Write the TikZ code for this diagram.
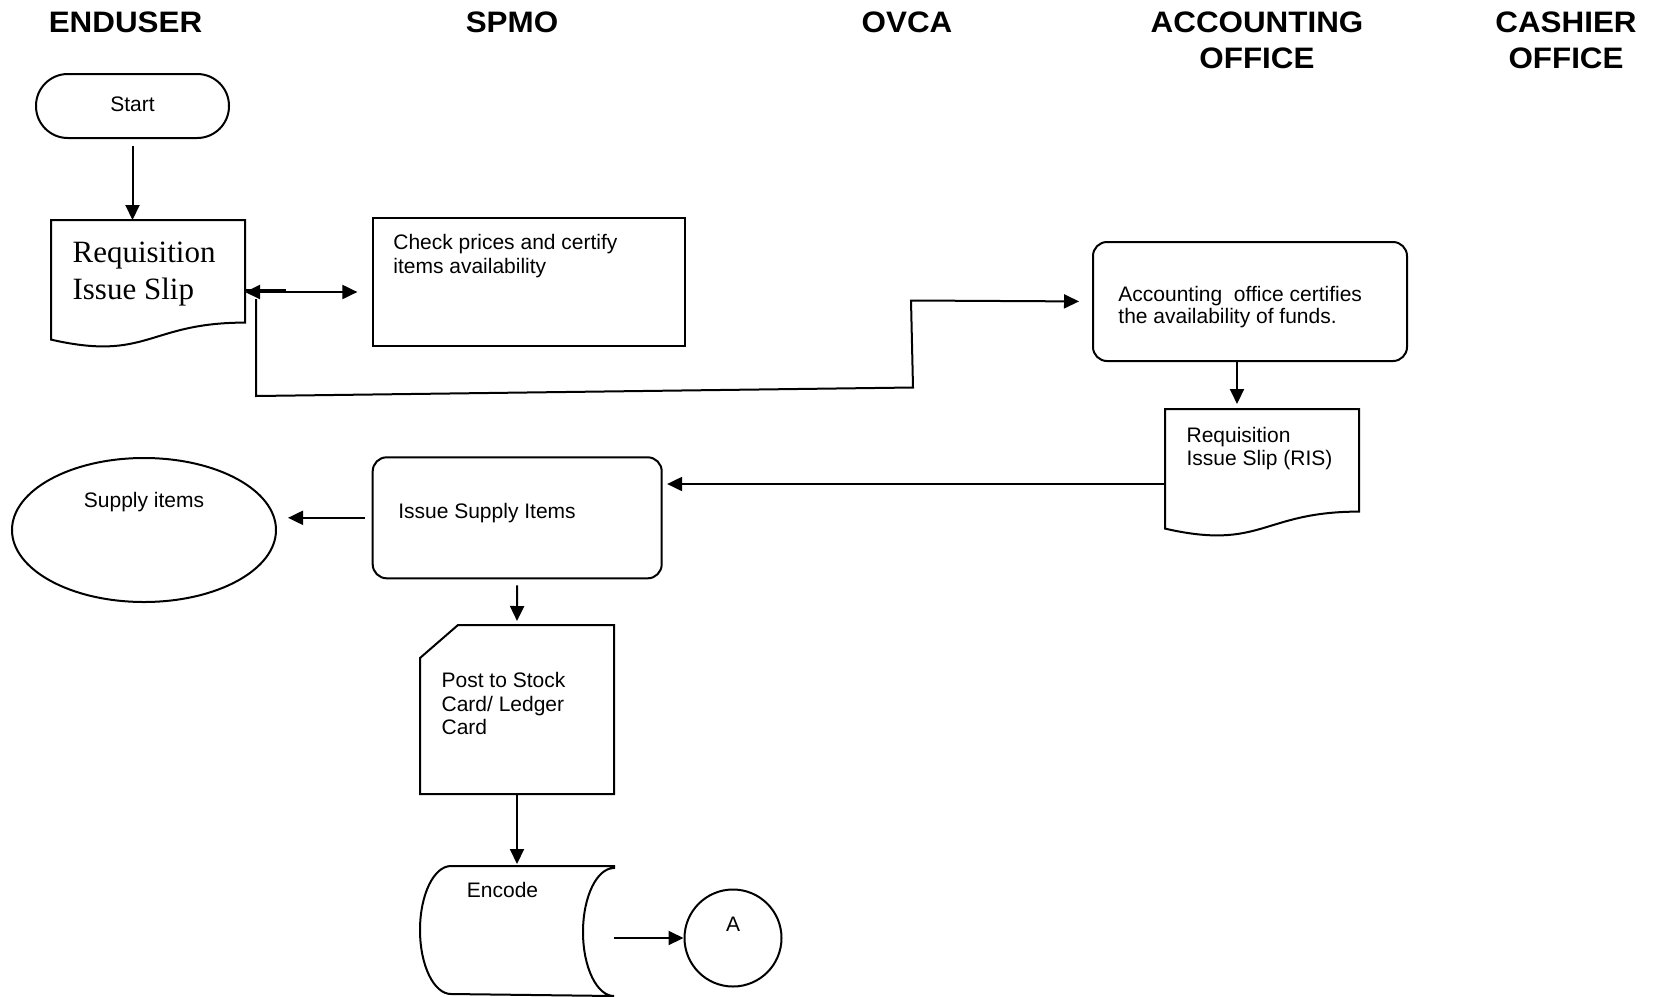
\documentclass[tikz,border=0pt]{standalone}
\usepackage{fontspec}
\setmainfont{Liberation Sans}
\newfontfamily\slipfont{Liberation Serif}
\newfontfamily\headfont{Liberation Sans}[FakeStretch=1.06]
\usetikzlibrary{arrows.meta,positioning,shapes.geometric,calc}

\tikzset{
  lane/.style={font=\headfont\bfseries\fontsize{14.8}{18}\selectfont, align=center, anchor=north, inner sep=0pt},
  txt/.style={font=\fontsize{10.5}{12}\selectfont, align=left, inner sep=0pt},
  procbox/.style={draw, rectangle, inner sep=0pt},
  roundbox/.style={procbox, rounded corners=7pt},
  docbox/.style={rectangle, inner sep=0pt, minimum width=96pt, minimum height=64pt},
}

% outline of a document symbol (wavy bottom)
\newcommand{\docshape}[1]{%
  \draw (#1.north west) -- (#1.north east) -- ([yshift=-51.3pt]#1.north east)
    .. controls ([yshift=-51.3pt]#1.north) and ([yshift=-70.9pt]#1.north) .. ([yshift=-59.8pt]#1.north west) -- cycle;}
% outline of a card symbol (cut corner)
\newcommand{\cardshape}[1]{%
  \draw ([xshift=19pt]#1.north west) -- (#1.north east) -- (#1.south east) -- (#1.south west) -- ([yshift=-16.5pt]#1.north west) -- cycle;}
% outline of a stored data symbol
\newcommand{\storedshape}[1]{%
  \draw (#1.north east) -- ([xshift=15.5pt]#1.north west) arc[start angle=90, end angle=270, x radius=15.5pt, y radius=32pt]
    -- (#1.south east) arc[start angle=270, end angle=90, x radius=15.5pt, y radius=32pt] -- cycle;}

\begin{document}
\begin{tikzpicture}[x=0.5pt, y=-0.5pt, line width=1pt, >={Triangle[length=7.5pt,width=7pt]}]
\useasboundingbox (0,0) rectangle (1653,996);

% lanes
\node[lane] (enduser) at (125.5,11) {ENDUSER};
\node[lane] (spmo) at (512,11) {SPMO};
\node[lane] (ovca) at (907,11) {OVCA};
\node[lane] (acctlane) at (1257,11) {ACCOUNTING\\OFFICE};
\node[lane] (cashier) at (1566,11) {CASHIER\\OFFICE};

% enduser
\node[draw, rounded corners=15.9pt, minimum width=96.5pt, minimum height=32pt, inner sep=0pt,
      font=\fontsize{10.5}{12}\selectfont, text depth=2pt] (start) at (132.5,106) {Start};

\node[docbox] (req) at (148,285) {};
\docshape{req}
\node[txt, font=\slipfont\fontsize{15.5}{18.75}\selectfont, below right=10.3pt and 10.3pt of req.north west] (reqtxt) {Requisition\\Issue Slip};

\node[draw, ellipse, minimum width=132pt, minimum height=72pt, inner sep=0pt] (supply) at (144,530) {};
\node[txt, below=17pt of supply.north] (supplytxt) {Supply items};

% spmo
\node[procbox, minimum width=156.2pt, minimum height=64pt] (check) at (529,281.7) {};
\node[txt, below right=8.3pt and 10.3pt of check.north west] (checktxt) {Check prices and certify\\items availability};

\node[roundbox, minimum width=144.5pt, minimum height=60.5pt] (issue) at (517.2,517.8) {};
\node[txt, below right=23pt and 12.8pt of issue.north west] (issuetxt) {Issue Supply Items};

\node[docbox, minimum height=83.5pt] (post) at (517,709.5) {};
\cardshape{post}
\node[txt, font=\fontsize{10.5}{11.7}\selectfont, below right=23.2pt and 10.3pt of post.north west] (posttxt) {Post to Stock\\Card/ Ledger\\Card};

\node[docbox] (encode) at (517,931) {};
\storedshape{encode}
\node[txt, below=7.5pt of encode.north, xshift=-7.25pt] (encodetxt) {Encode};

\node[draw, circle, minimum size=48.5pt, inner sep=0pt] (a) at (733,938) {};
\node[txt, below=13.75pt of a.north] (atxt) {A};

% accounting office
\node[roundbox, minimum width=157pt, minimum height=59.5pt] (acct) at (1250,301.5) {};
\node[txt, font=\fontsize{10.5}{11.2}\selectfont, below right=22pt and 12.7pt of acct.north west] (accttxt) {Accounting\ \ office certifies\\the availability of funds.};

\node[docbox] (ris) at (1262,474) {};
\docshape{ris}
\node[txt, font=\fontsize{10.5}{11.5}\selectfont, below right=8.8pt and 10.3pt of ris.north west] (ristxt) {Requisition\\Issue Slip (RIS)};

% connectors
\draw[->, shorten <=3.5pt] (start.south) -- (start.south |- req.north);

\coordinate (rq1) at ([yshift=-36pt]req.north east);
\draw[<->, shorten >=7.2pt] (rq1) -- (rq1 -| check.west);
\draw ([yshift=1pt]rq1) -- ++(20.5pt,0);

\coordinate (rq2) at ([xshift=5.5pt,yshift=-39.5pt]req.north east);
\draw[->, shorten >=6.5pt] (rq2) -- ++(0,97) -- ++(657,-8.5) -- ++(-2,-87) -- (acct.west);

\coordinate (ac1) at ([xshift=-6.5pt]acct.south);
\draw[->, shorten >=2.5pt] (ac1) -- (ac1 |- ris.north);

\coordinate (rs1) at ([yshift=-37.5pt]ris.north west);
\draw[->, shorten >=2.2pt] (rs1) -- (rs1 -| issue.east);

\draw[->, shorten <=3.5pt, shorten >=5.5pt] (issue.west) -- (issue.west -| supply.east);
\draw[->, shorten <=3pt, shorten >=2pt] (issue.south) -- (post.north);
\draw[->, shorten >=1pt] (post.south) -- (encode.north);
\draw[->] (encode.east |- a.west) -- (a.west);
\end{tikzpicture}
\end{document}
